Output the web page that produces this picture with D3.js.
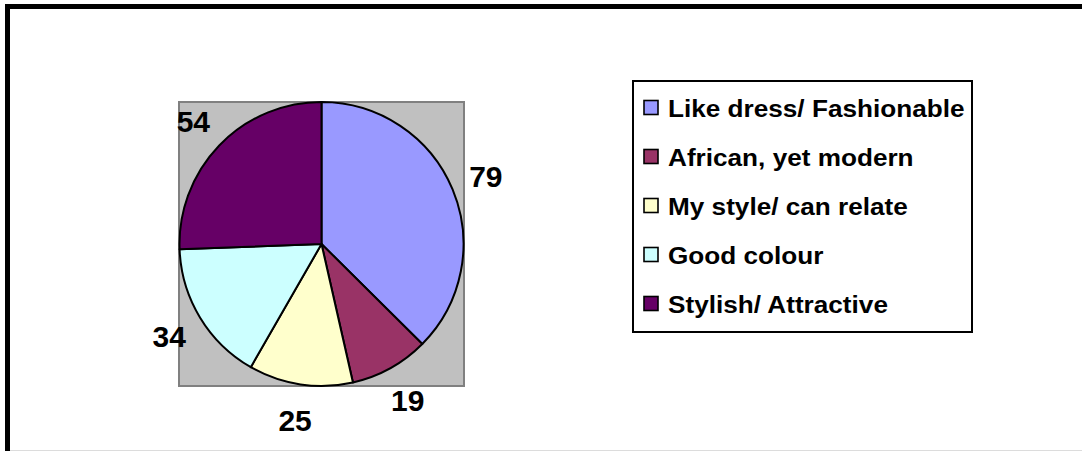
<!DOCTYPE html>
<html>
<head>
<meta charset="utf-8">
<script src="https://cdn.jsdelivr.net/npm/d3@7"></script>
<style>
  html, body { margin: 0; padding: 0; background: #fff; }
  svg { display: block; }
  text { font-family: Arial, "Liberation Sans", sans-serif; font-weight: bold; }
</style>
</head>
<body>
<svg id="chart" width="1082" height="451"></svg>
<script>
// Reasons given for liking the outfit (number of respondents)
const categories = [
  "Like dress/ Fashionable",
  "African, yet modern",
  "My style/ can relate",
  "Good colour",
  "Stylish/ Attractive"
];
const values = [79, 19, 25, 34, 54];
const colors = ["#9999FF", "#993366", "#FFFFCC", "#CCFFFF", "#660066"];

const W = 1082, H = 451;
const svg = d3.select("#chart");

// chart frame
svg.append("rect").attr("x", 0).attr("y", 0).attr("width", W).attr("height", H).attr("fill", "#fff");
svg.append("line").attr("x1", 10).attr("x2", W).attr("y1", 450.5).attr("y2", 450.5)
  .attr("stroke", "#dcdcdc").attr("stroke-width", 1);
svg.append("path")
  .attr("d", `M7.5,${H} L7.5,6.5 L${W + 5},6.5`)
  .attr("fill", "none").attr("stroke", "#000").attr("stroke-width", 5);

// plot area
const plot = { x: 179, y: 102, w: 285, h: 284 };
svg.append("rect")
  .attr("x", plot.x).attr("y", plot.y).attr("width", plot.w).attr("height", plot.h)
  .attr("fill", "#C0C0C0").attr("stroke", "#808080").attr("stroke-width", 2);

const cx = plot.x + plot.w / 2, cy = plot.y + plot.h / 2;
const radius = 142;

const pie = d3.pie().sort(null).value(d => d.value);
const arcs = pie(categories.map((c, i) => ({ name: c, value: values[i], color: colors[i] })));
const arc = d3.arc().innerRadius(0).outerRadius(radius);
const labelArc = d3.arc().innerRadius(178).outerRadius(178);

const g = svg.append("g").attr("transform", `translate(${cx},${cy})`);
g.selectAll("path.slice")
  .data(arcs)
  .join("path")
  .attr("class", "slice")
  .attr("d", arc)
  .attr("fill", d => d.data.color)
  .attr("stroke", "#000")
  .attr("stroke-width", 2)
  .attr("stroke-linejoin", "round");

// value labels outside the slices
g.selectAll("text.value")
  .data(arcs)
  .join("text")
  .attr("class", "value")
  .attr("x", d => labelArc.centroid(d)[0])
  .attr("y", d => labelArc.centroid(d)[1] + 11)
  .attr("text-anchor", "middle")
  .attr("font-size", 30)
  .attr("fill", "#000")
  .text(d => d.data.value);

// legend
const legend = { x: 633, y: 81, w: 339, h: 251, rowTop: 117, rowStep: 49 };
svg.append("rect")
  .attr("x", legend.x).attr("y", legend.y).attr("width", legend.w).attr("height", legend.h)
  .attr("fill", "#fff").attr("stroke", "#000").attr("stroke-width", 2);

const rows = svg.selectAll("g.legend-row")
  .data(categories.map((c, i) => ({ name: c, color: colors[i] })))
  .join("g")
  .attr("class", "legend-row")
  .attr("transform", (d, i) => `translate(0,${legend.rowTop + i * legend.rowStep})`);

rows.append("rect")
  .attr("x", 644).attr("y", -16.5).attr("width", 14).attr("height", 14)
  .attr("fill", d => d.color).attr("stroke", "#000").attr("stroke-width", 1.6);

rows.append("text")
  .attr("transform", "translate(668,0) scale(1.09,1)")
  .attr("font-size", 24)
  .attr("fill", "#000")
  .text(d => d.name);
</script>
</body>
</html>
